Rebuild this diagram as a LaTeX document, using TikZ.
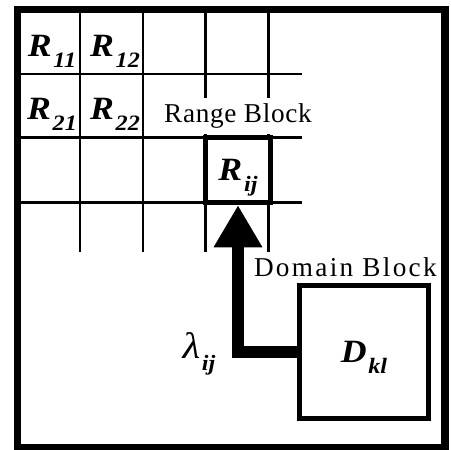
\documentclass[tikz,border=0pt]{standalone}
\usepackage{fontspec}
\setmainfont{Liberation Serif}
\newfontfamily\labelfont[FakeStretch=1.1]{Liberation Serif}
\usetikzlibrary{arrows.meta, positioning}
\newcommand{\lowsub}[1]{\raisebox{-0.75ex}{\fontsize{12.5}{12.5}\selectfont\kern1pt#1}}

\begin{document}
\begin{tikzpicture}[
    x=0.02cm, y=-0.02cm,
    grid/.style={line width=1.2pt},
    blk/.style={rectangle, draw, line width=3pt, inner sep=0pt, text depth=0pt, font=\labelfont\fontsize{18.5}{20}\selectfont\bfseries\itshape},
    lbl/.style={font=\labelfont\fontsize{18.5}{20}\selectfont\bfseries\itshape, anchor=base},
    caption/.style={font=\fontsize{15.5}{17}\selectfont, fill=white, inner xsep=1pt, inner ysep=3pt},
    arrow/.style={-{Triangle[length=24pt, width=26pt]}, line width=6.3pt},
]
    \useasboundingbox (0,0) rectangle (451,450);

    % range grid
    \foreach \x in {80, 143, 205.5, 268.5}
        \draw[grid] (\x,9.5) -- (\x,252);
    \foreach \y in {74, 137.5, 202.5}
        \draw[grid] (17.5,\y) -- (302,\y);

    \node[lbl] (r11) at (52,56) {R\lowsub{11}};
    \node[lbl] (r12) at (115,56) {R\lowsub{12}};
    \node[lbl] (r21) at (52,119) {R\lowsub{21}};
    \node[lbl] (r22) at (115,119) {R\lowsub{22}};

    \node[blk, fill=white, minimum size=1.3cm] (rij) at (238,170) {R\lowsub{ij}};
    \node[caption, above=0.5pt of rij] (rangecap) {\addfontfeature{LetterSpace=2.5}Range Block};

    \node[blk, fill=white, minimum width=2.58cm, minimum height=2.67cm] (dkl) at (364,352) {D\lowsub{kl}};
    \node[caption, above left=0pt and -4.4pt of dkl.north east] (domaincap) {\addfontfeature{LetterSpace=8.5}Domain Block};

    \draw[arrow] (dkl.west) -| (rij.south);
    \node[font=\labelfont\fontsize{21}{22}\selectfont, anchor=base] (lam) at (199,358) {\itshape λ\lowsub{\bfseries ij}};

    % frame
    \draw[line width=4.5pt] (17.5,9.5) rectangle (445,447.5);
\end{tikzpicture}
\end{document}
